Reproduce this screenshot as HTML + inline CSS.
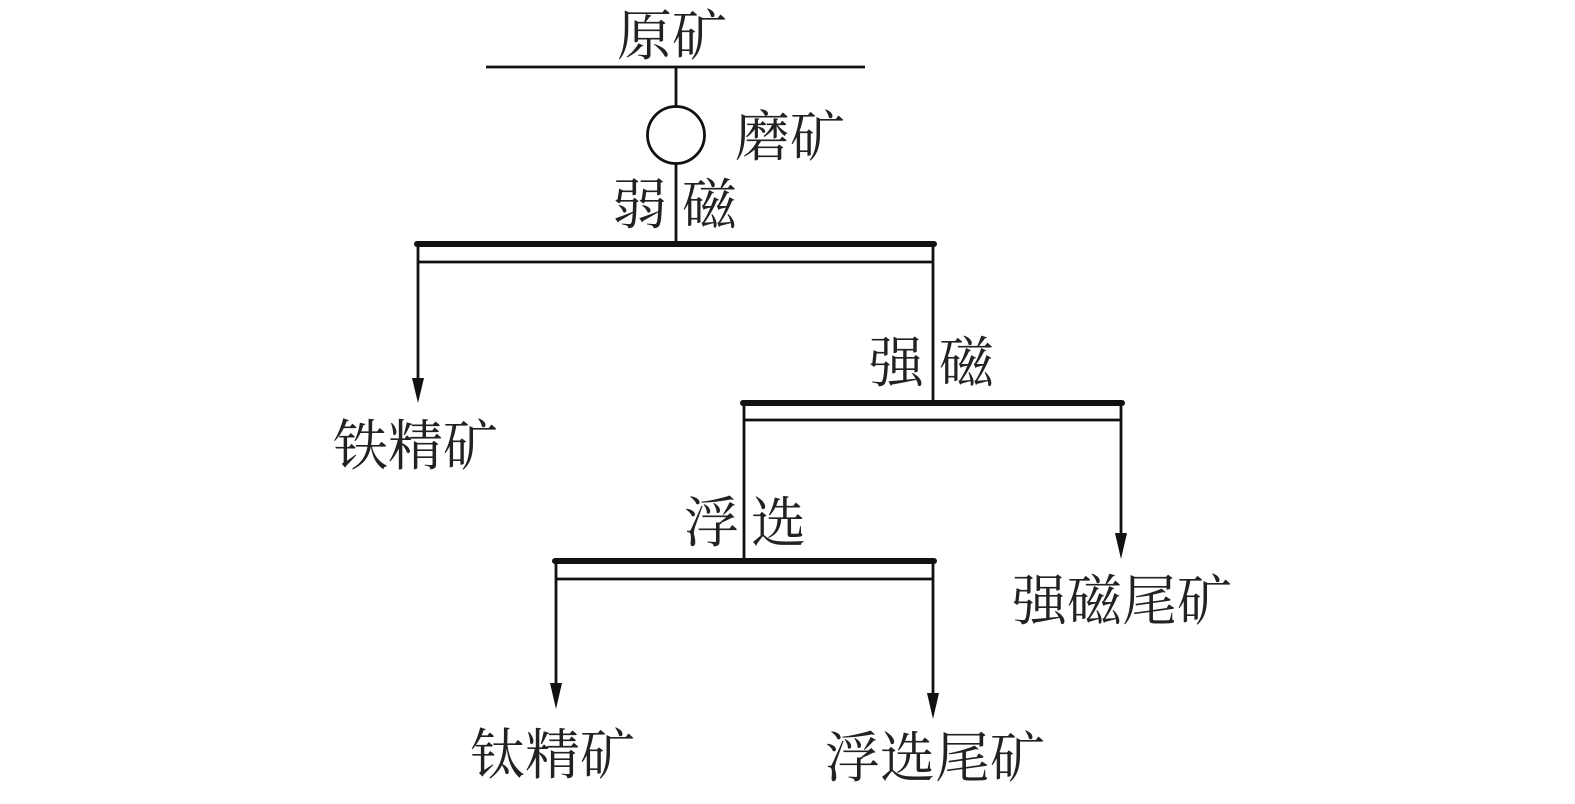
<!DOCTYPE html>
<html><head><meta charset="utf-8"><style>
html,body{margin:0;padding:0;background:#fff;}
svg text{font-family:"Liberation Serif","Noto Serif CJK SC",serif;font-size:55px;fill:#222;}
</style></head><body>
<svg width="1575" height="799" viewBox="0 0 1575 799" xmlns="http://www.w3.org/2000/svg">
<g stroke="#111" fill="none">
<line x1="486" y1="67" x2="865" y2="67" stroke-width="2.8"/>
<line x1="676" y1="67" x2="676" y2="107" stroke-width="2.8"/>
<circle cx="676" cy="135" r="28.5" stroke-width="2.8"/>
<line x1="676" y1="164" x2="676" y2="244" stroke-width="2.8"/>
<line x1="417" y1="244" x2="934" y2="244" stroke-width="6" stroke-linecap="round"/>
<line x1="418" y1="262" x2="933" y2="262" stroke-width="2.8"/>
<line x1="418" y1="244" x2="418" y2="380" stroke-width="2.8"/>
<line x1="933" y1="244" x2="933" y2="403" stroke-width="2.8"/>
<line x1="743" y1="403" x2="1122" y2="403" stroke-width="6" stroke-linecap="round"/>
<line x1="744" y1="420" x2="1121" y2="420" stroke-width="2.8"/>
<line x1="744" y1="403" x2="744" y2="561" stroke-width="2.8"/>
<line x1="1121" y1="403" x2="1121" y2="535" stroke-width="2.8"/>
<line x1="555" y1="561" x2="934" y2="561" stroke-width="6" stroke-linecap="round"/>
<line x1="556" y1="579" x2="933" y2="579" stroke-width="2.8"/>
<line x1="556" y1="561" x2="556" y2="685" stroke-width="2.8"/>
<line x1="933" y1="561" x2="933" y2="695" stroke-width="2.8"/>
</g>
<g fill="#111">
<path d="M412,378 L424,378 L418,403 z"/>
<path d="M1115,533 L1127,533 L1121,559 z"/>
<path d="M550,683 L562,683 L556,709 z"/>
<path d="M927,693 L939,693 L933,719 z"/>
</g>
<text x="617" y="55">原矿</text>
<text x="735" y="156">磨矿</text>
<text x="612" y="224">弱</text><text x="682" y="224">磁</text>
<text x="869" y="382">强</text><text x="939" y="382">磁</text>
<text x="333" y="465">铁精矿</text>
<text x="684" y="542">浮</text><text x="751" y="542">选</text>
<text x="1012" y="620">强磁尾矿</text>
<text x="470" y="774">钛精矿</text>
<text x="825" y="777">浮选尾矿</text>
</svg>
</body></html>
